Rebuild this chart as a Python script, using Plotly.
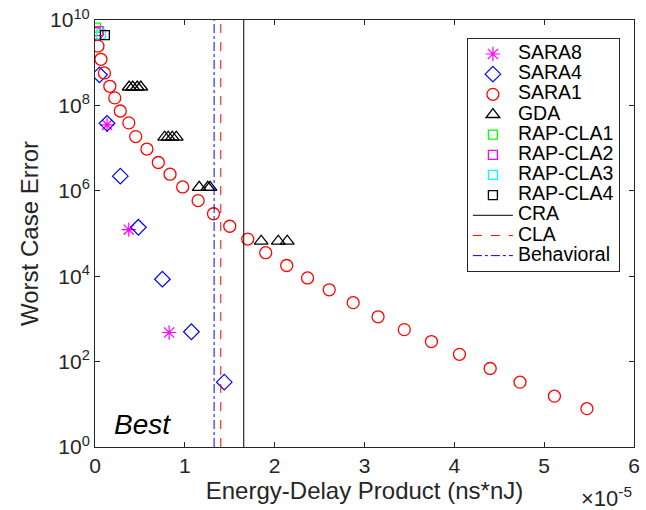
import plotly.graph_objects as go

# x values in units of 1e-5 ns*nJ
sara1_x = [0.022, 0.033, 0.066, 0.105, 0.165, 0.22, 0.282, 0.376, 0.453, 0.578, 0.705, 0.835, 0.976, 1.148, 1.319,
           1.50, 1.70, 1.90, 2.134, 2.366, 2.607, 2.874, 3.151, 3.443, 3.745, 4.057, 4.399, 4.731, 5.114, 5.476]
sara1_y = [4.8e9, 2.45e9, 1.2e9, 5.75e8, 2.8e8, 1.5e8, 7.4e7, 3.9e7, 1.86e7, 9.5e6, 4.6e6, 2.45e6, 1.23e6,
           5.9e5, 2.9e5, 1.48e5, 7.4e4, 3.55e4, 1.78e4, 9.1e3, 4.8e3, 2.4e3, 1.12e3, 560, 295, 148, 69, 33, 15.5, 7.9]

sara4_x = [0.05, 0.134, 0.282, 0.483, 0.75, 1.073, 1.439]
sara4_y = [5.2e8, 3.8e7, 2.2e6, 1.4e5, 8.5e3, 500, 33]

sara8_x = [0.134, 0.376, 0.825]
sara8_y = [3.5e7, 1.23e5, 480]

gda_x = [0.38, 0.42, 0.47, 0.51, 0.775, 0.815, 0.86, 0.905, 1.16, 1.255, 1.28, 1.85, 2.04, 2.14]
gda_y = [2.7e8, 2.7e8, 2.7e8, 2.7e8, 1.8e7, 1.8e7, 1.8e7, 1.8e7, 1.2e6, 1.2e6, 1.2e6, 6.6e4, 6.6e4, 6.6e4]

rap_names = ["RAP-CLA1", "RAP-CLA2", "RAP-CLA3", "RAP-CLA4"]
rap_x = [0.01, 0.04, 0.066, 0.11]
rap_y = [6.6e9, 5.5e9, 4.6e9, 4.4e9]

vline_names = ["CRA", "CLA", "Behavioral"]
vline_x = [1.656, 1.40, 1.326]

x_ticks = [0, 1, 2, 3, 4, 5, 6]
y_exps = [0, 2, 4, 6, 8, 10]

FONT = "Liberation Sans, Arial, sans-serif"
TXT = "#262626"
LEG_TXT = '<span style="font-size:19.5px">%s</span>'

fig = go.Figure()

fig.add_trace(go.Scatter(x=sara8_x, y=sara8_y, mode="markers", name=LEG_TXT % "SARA8",
                         marker=dict(symbol="asterisk-open", size=12, color="#ff00ff",
                                     line=dict(color="#ff00ff", width=1.2))))
fig.add_trace(go.Scatter(x=sara4_x, y=sara4_y, mode="markers", name=LEG_TXT % "SARA4",
                         marker=dict(symbol="diamond-open", size=12, color="#0000ff",
                                     line=dict(color="#0000ff", width=1.2))))
fig.add_trace(go.Scatter(x=sara1_x, y=sara1_y, mode="markers", name=LEG_TXT % "SARA1",
                         marker=dict(symbol="circle-open", size=12, color="#ff0000",
                                     line=dict(color="#ff0000", width=1.3))))
fig.add_trace(go.Scatter(x=gda_x, y=gda_y, mode="markers", name=LEG_TXT % "GDA",
                         marker=dict(symbol="triangle-up-open", size=12, color="#000000",
                                     line=dict(color="#000000", width=1.3))))
rap_colors = ["#00ff00", "#ff00ff", "#00ffff", "#000000"]
for n, xx, yy, c in zip(rap_names, rap_x, rap_y, rap_colors):
    fig.add_trace(go.Scatter(x=[xx], y=[yy], mode="markers", name=LEG_TXT % n,
                             marker=dict(symbol="square-open", size=9, color=c, line=dict(color=c, width=1.3))))

vstyles = [("#000000", "solid"), ("#ff0000", "dash"), ("#0000ff", "dashdot")]
for n, xv, (c, d) in zip(vline_names, vline_x, vstyles):
    fig.add_trace(go.Scatter(x=[xv, xv], y=[1, 1e10], mode="lines", name=LEG_TXT % n,
                             line=dict(color=c, width=1, dash=d)))

fig.add_annotation(x=0.031, y=0.052, xref="paper", yref="paper", text="<i>Best</i>", showarrow=False,
                   xanchor="left", yanchor="middle", font=dict(size=28, color="#000000", family=FONT))
fig.add_annotation(x=1.0, y=-0.117, xref="paper", yref="paper", text="×10<sup>-5</sup>", showarrow=False,
                   xanchor="right", yanchor="middle", font=dict(size=22, color=TXT, family=FONT))

fig.update_layout(
    width=646, height=510,
    margin=dict(l=95, r=6, t=18, b=63),
    paper_bgcolor="white", plot_bgcolor="white",
    font=dict(family=FONT, color=TXT, size=16),
    showlegend=True,
    legend=dict(x=0.69, y=0.958, xanchor="left", yanchor="top",
                bordercolor=TXT, borderwidth=1, bgcolor="white",
                font=dict(size=13.2, color="#000000", family=FONT),
                tracegroupgap=0, itemwidth=40),
)
fig.update_xaxes(range=[0, 6], tickvals=x_ticks, ticktext=[str(t) for t in x_ticks],
                 ticks="inside", ticklen=5, tickcolor=TXT, showline=True, linecolor=TXT, linewidth=1,
                 mirror="ticks", showgrid=False, zeroline=False,
                 tickfont=dict(size=21), title=dict(text="Energy-Delay Product (ns*nJ)", font=dict(size=24), standoff=3))
fig.update_yaxes(type="log", range=[0, 10], tickvals=[10 ** e for e in y_exps],
                 ticktext=["10<sup>%d</sup>" % e for e in y_exps],
                 ticks="inside", ticklen=5, tickcolor=TXT, showline=True, linecolor=TXT, linewidth=1,
                 mirror="ticks", showgrid=False, zeroline=False,
                 tickfont=dict(size=21), title=dict(text="Worst Case Error", font=dict(size=24), standoff=4))

fig.write_html("out.html")
